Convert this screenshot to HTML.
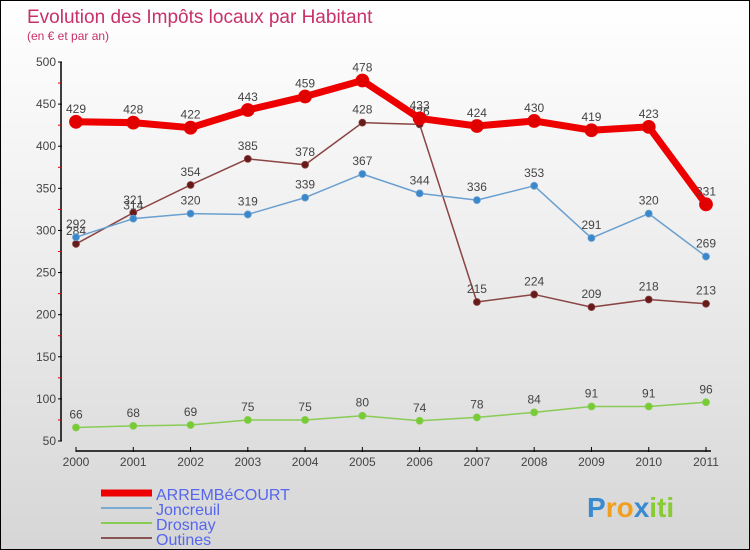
<!DOCTYPE html>
<html><head><meta charset="utf-8"><style>
html,body{margin:0;padding:0}
body{width:750px;height:550px;overflow:hidden;font-family:"Liberation Sans","DejaVu Sans",sans-serif}
#wrap{position:relative;width:748px;height:548px;border:1px solid #000;background:linear-gradient(#ffffff 0%,#f0f0f0 40%,#d6d6d6 100%)}
</style></head><body>
<div id="wrap">
<svg id="chart" width="748" height="548" style="position:absolute;left:0;top:0"></svg>
</div>
<script>
const years=["2000","2001","2002","2003","2004","2005","2006","2007","2008","2009","2010","2011"];
const arrembecourt=[429,428,422,443,459,478,433,424,430,419,423,331];
const joncreuil=[292,314,320,319,339,367,344,336,353,291,320,269];
const drosnay=[66,68,69,75,75,80,74,78,84,91,91,96];
const outines=[284,321,354,385,378,428,426,215,224,209,218,213];
const yTicks=[50,100,150,200,250,300,350,400,450,500];
const ns="http://www.w3.org/2000/svg";
const svg=document.getElementById('chart');
function X(i){return 75+i*(630/11);}
function Y(v){return 440-(v-50)*(379/450);}
function mk(t,a,p){const e=document.createElementNS(ns,t);for(const k in a)e.setAttribute(k,a[k]);(p||svg).appendChild(e);return e;}
let t=mk('text',{x:26,y:22,'font-size':19,fill:'#c8306a'});t.textContent='Evolution des Impôts locaux par Habitant';


t=mk('text',{x:26,y:39,'font-size':12,fill:'#c8306a'});t.textContent='(en € et par an)';


let g=mk('g',{});


mk('line',{x1:60,y1:Y(500),x2:60,y2:Y(50),stroke:'#000','stroke-width':1.5},g);
yTicks.forEach((v,i)=>{
 mk('line',{x1:57,y1:Y(v),x2:61,y2:Y(v),stroke:'#000'},g);
 if(i<yTicks.length-1) mk('line',{x1:57,y1:Y(v+25),x2:61,y2:Y(v+25),stroke:'#d00'},g);
 const tt=mk('text',{x:55,y:Y(v)+4,'font-size':12,fill:'#444','text-anchor':'end'},g);tt.textContent=v;
 
 
});
g=mk('g',{});


mk('line',{x1:X(0),y1:450,x2:X(11)+5,y2:450,stroke:'#000','stroke-width':1.5},g);
years.forEach((y,i)=>{
 mk('line',{x1:X(i),y1:446,x2:X(i),y2:451,stroke:'#000'},g);
 const tt=mk('text',{x:X(i),y:465,'font-size':12,fill:'#444','text-anchor':'middle'},g);tt.textContent=y;
 
 
});
function series(name,data,color,dot,w,r){
 const gg=mk('g',{});
 
 
 mk('polyline',{points:data.map((v,i)=>X(i)+','+Y(v)).join(' '),fill:'none',stroke:color,'stroke-width':w,'stroke-linejoin':'round'},gg);
 data.forEach((v,i)=>{
  const c=mk('circle',{cx:X(i),cy:Y(v),r:r,fill:dot,stroke:color,'stroke-width':0.8},gg);
  
  
  const tt=mk('text',{x:X(i),y:Y(v)-9,'font-size':12,fill:'#444','text-anchor':'middle'},gg);tt.textContent=v;
  
  
 });
}
series('drosnay',drosnay,'#88cc55','#77cc33',1.5,3.5);
series('outines',outines,'#8a4444','#661a1a',1.5,3.5);
series('joncreuil',joncreuil,'#6a9fd0','#3a88cc',1.5,3.5);
series('arrembecourt',arrembecourt,'#ee0000','#e00000',7,6.5);
const leg=[['ARREMBéCOURT','#ee0000',7],['Joncreuil','#7aaad0',2],['Drosnay','#88cc55',2],['Outines','#8a5555',2]];
leg.forEach((l,i)=>{
 const y=492+i*15;
 const gg=mk('g',{});
 
 
 mk('line',{x1:100,y1:y,x2:151,y2:y,stroke:l[1],'stroke-width':l[2]},gg);
 const tt=mk('text',{x:155,y:y+7,'font-size':16,fill:'#5566ee'},gg);tt.textContent=l[0];
});
const lg=mk('text',{x:586,y:516,'font-size':28,'font-weight':'bold','fill':'#f08020'});


[['P','#3a8ad0'],['ro','#f0a020'],['x','#3a8ad0'],['iti','#88cc33']].forEach(p=>{const s=mk('tspan',{fill:p[1]},lg);s.textContent=p[0];});
</script>
</body></html>
